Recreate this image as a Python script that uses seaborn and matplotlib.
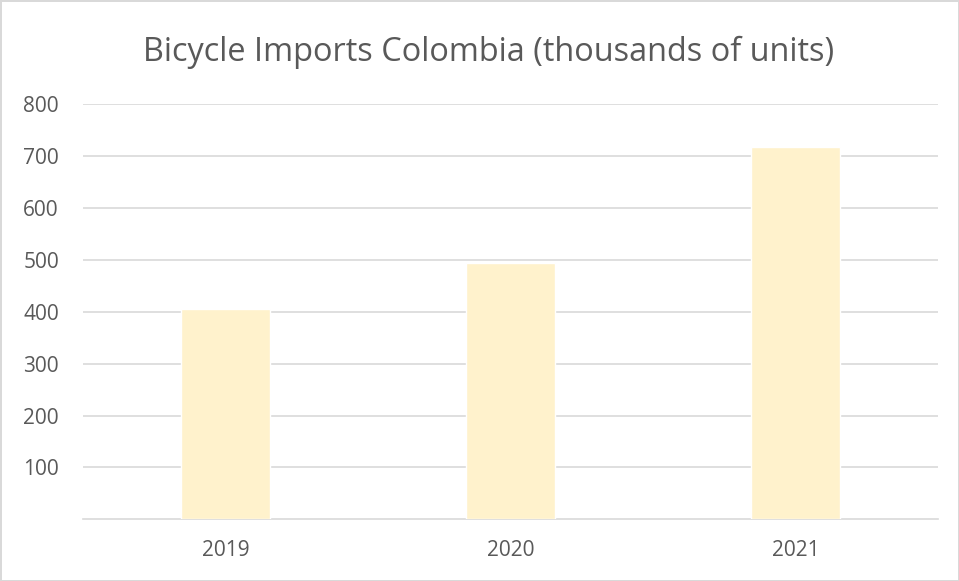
import numpy as np
import pandas as pd
import seaborn as sns
import matplotlib.pyplot as plt

years = ["2019", "2020", "2021"]
imports = [405, 494, 717]
yticks = [100, 200, 300, 400, 500, 600, 700, 800]

df = pd.DataFrame({"year": years, "imports": imports})

sns.set_style("white")
plt.rcParams['font.family'] = ['Open Sans', 'DejaVu Sans']

fig = plt.figure(figsize=(9.59, 5.81), dpi=100)
fig.patch.set_edgecolor("#D9D9D9")
fig.patch.set_linewidth(2)
ax = fig.add_axes([0.0866, 0.106, 0.8914, 0.715])

sns.barplot(data=df, x="year", y="imports", color="#FFF2CC", width=0.31,
            saturation=1, ax=ax, zorder=3)

ax.set_ylim(0, 800)
ax.set_yticks(yticks)
ax.yaxis.grid(True, color="#D9D9D9", linewidth=1.2, zorder=0)
ax.set_axisbelow(True)
for s in ["top", "right", "left"]:
    ax.spines[s].set_visible(False)
ax.spines["bottom"].set_color("#D9D9D9")
ax.spines["bottom"].set_linewidth(1.2)
ax.tick_params(axis="both", length=0, colors="#595959", labelsize=15)
ax.tick_params(axis="y", pad=43)
ax.tick_params(axis="x", pad=15)
ax.set_xlabel("")
ax.set_ylabel("")
for lab in ax.get_yticklabels():
    lab.set_horizontalalignment("left")

# título centrado en la figura, no en los ejes
fig.text(0.509, 0.8955, "Bicycle Imports Colombia (thousands of units)",
         fontsize=23.4, color="#595959", ha="center", va="baseline")

fig.savefig("out.png", dpi=100)
